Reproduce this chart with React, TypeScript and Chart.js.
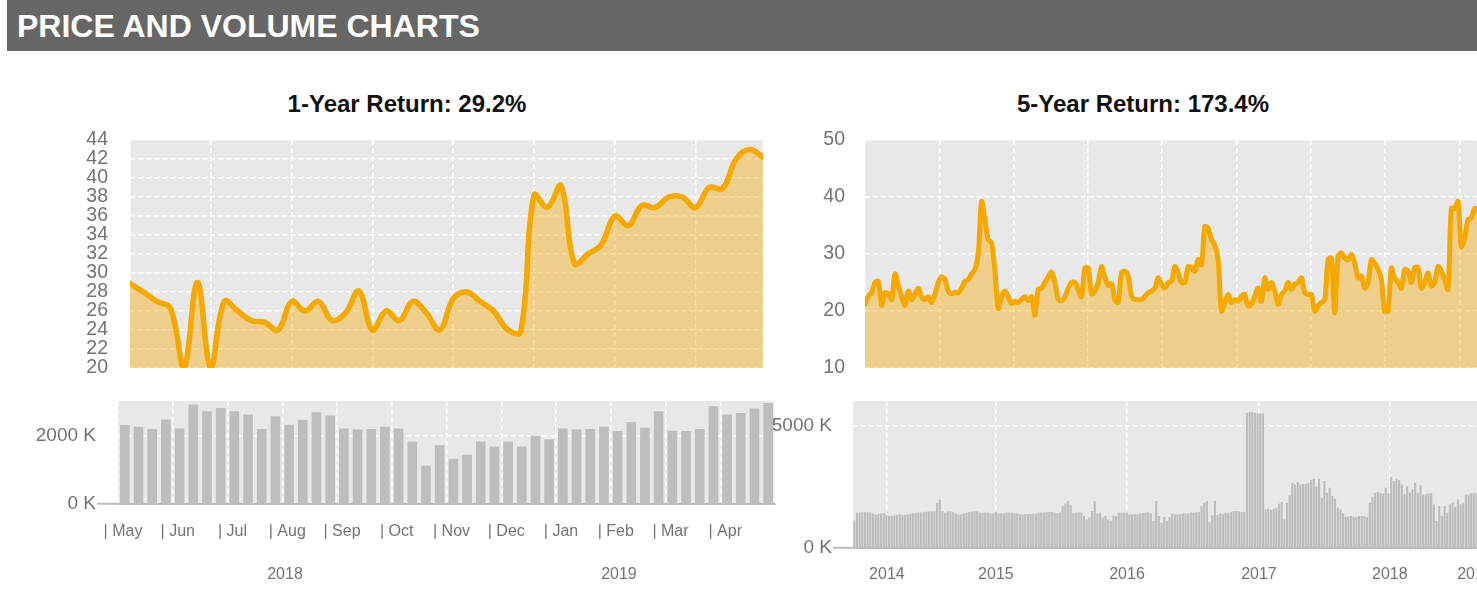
import React, { useEffect, useRef } from "react";
import { Chart, registerables } from "chart.js";

Chart.register(...registerables);

const FONT = "'Liberation Sans', Arial, Helvetica, sans-serif";
Chart.defaults.font.family = FONT;
Chart.defaults.color = "#737373";

// ---------------- data ----------------
// 1-year (weekly)
const price1YTicks = [20, 22, 24, 26, 28, 30, 32, 34, 36, 38, 40, 42, 44];
const price1Y = [
  28.9, 28.0, 27.0, 26.3, 20.0, 29.0, 20.0, 27.0, 26.0, 25.0,
  24.8, 24.0, 27.0, 26.0, 27.0, 25.0, 25.8, 28.1, 24.0, 26.0,
  25.0, 27.0, 25.8, 24.0, 27.3, 28.0, 27.0, 26.0, 24.1, 23.8,
  38.2, 36.9, 39.2, 31.0, 32.0, 33.0, 36.0, 35.0, 37.1, 36.9,
  38.0, 38.0, 36.9, 39.0, 38.9, 42.0, 43.0, 42.2,
];
const volume1YTicks = [0, 2000];
const volume1Y = [
  2288, 2240, 2173, 2452, 2192, 2885, 2692, 2788, 2692, 2596,
  2173, 2548, 2298, 2442, 2663, 2567, 2192, 2163, 2173, 2240,
  2192, 1808, 1106, 1702, 1308, 1423, 1808, 1663, 1808, 1663,
  1981, 1875, 2192, 2163, 2173, 2240, 2115, 2375, 2211, 2692,
  2125, 2115, 2173, 2836, 2596, 2644, 2769, 2933,
];
const months1Y = ["May", "Jun", "Jul", "Aug", "Sep", "Oct", "Nov", "Dec", "Jan", "Feb", "Mar", "Apr"];
const years1Y = ["2018", "2019"];

// 5-year
const price5YTicks = [10, 20, 30, 40, 50];
const price5Y = [
  21.2, 22.6, 23.2, 25, 25.2, 21, 23.2, 23, 22, 26.5,
  24.5, 22.5, 21, 23.5, 22, 23, 24, 22.5, 22, 22.5,
  21.5, 23, 25, 26, 25.5, 23.5, 23, 23.3, 23.2, 24,
  25.2, 25.5, 26.5, 27.3, 30, 39.2, 36, 32.5, 32, 27,
  20.5, 22.5, 23.5, 22.5, 21.3, 21.7, 21.5, 22, 22.5, 21.8,
  22.5, 19.3, 23.8, 24, 25, 26, 26.8, 25, 22, 21.8,
  22.5, 24, 25, 25, 23.8, 22.5, 27.5, 27.5, 23, 23.5,
  25, 27.8, 26, 24.5, 24.8, 22, 21.5,
  26.7, 27, 26.1, 22.6, 22, 22, 22, 22.6, 23.2, 23.5,
  24, 25.8, 24.7, 24, 25, 25.2, 27.8, 26.7, 25, 25,
  27.8, 27.6, 27, 29, 28.1, 34.8, 34.5, 32.5, 31.6, 29,
  20, 21.5, 22.9, 21.5, 22, 21.7, 22.6, 22.9, 20.9, 21.2,
  22.6, 24, 21.7, 25.8, 23.8, 25, 23.5, 21.2, 22.9, 23.5,
  25, 23.8, 24.7, 25, 25.8, 23.2, 22.9, 22.9, 20, 20.9,
  21.5, 22, 29, 29.3, 19.7, 29.6, 30.2, 29.3, 29, 29.9,
  28.4, 25.8, 26.1, 24, 25, 29, 28.4, 27.3, 25.5, 20,
  20, 27.5, 25.8, 25, 24, 27.3, 27, 25, 27.6, 27.6,
  24, 25, 26.7, 24.4, 25, 27.8, 27, 25.5, 23.8, 38,
  38, 39.2, 31.3, 32.8, 36, 36.3, 38,
  37.5, 39, 39, 41.5, 43, 43, 42.2,
];
const volume5YTicks = [0, 5000];
const volume5Y = [
  1087, 1427, 1440, 1440, 1450, 1450, 1440, 1400, 1360, 1380,
  1400, 1400, 1330, 1290, 1290, 1310, 1340, 1370, 1340, 1340,
  1360, 1390, 1400, 1410, 1430, 1440, 1450, 1470, 1480, 1480,
  1490, 1830, 1970, 1490, 1430, 1480, 1480, 1450, 1400, 1360,
  1360, 1400, 1430, 1450, 1470, 1480, 1480, 1430, 1430, 1430,
  1430, 1400, 1400, 1450, 1400, 1400, 1400, 1430, 1430, 1420,
  1400, 1400, 1370, 1360, 1370, 1370, 1380, 1390, 1390, 1420,
  1430, 1430, 1450, 1460, 1460, 1430, 1400, 1430, 1700, 1800,
  1900, 1750, 1420, 1430, 1440, 1430, 1290, 1150, 1230, 1490,
  1900, 1400, 1420, 1220, 1300, 1150, 1100, 1300, 1290, 1430,
  1427, 1427, 1427, 1359, 1359, 1370, 1370, 1400, 1400, 1427,
  1450, 1400, 1087, 1903, 1291, 1019, 1250, 1087, 1250, 1400,
  1359, 1370, 1370, 1400, 1400, 1400, 1427, 1427, 1450, 1450,
  1699, 1835, 1903, 1046, 1318, 1903, 1345, 1400, 1370, 1427,
  1427, 1450, 1495, 1495, 1480, 1450, 1450, 5504, 5531, 5531,
  5504, 5477, 5477, 5477, 1563, 1590, 1536, 1590, 1631, 1794,
  1862, 1155, 1835, 2134, 2650, 2582, 2677, 2582, 2600, 2600,
  2650, 2759, 2813, 2487, 2813, 2039, 2718, 2242, 2446, 2106,
  2000, 1631, 1563, 1400, 1264, 1264, 1291, 1264, 1250, 1291,
  1291, 1291, 1250, 1835, 2079, 2242, 2270, 2242, 2215, 2446,
  2215, 2895, 2718, 2813, 2759, 2582, 2201, 2514, 2242, 2378,
  2650, 2242, 2541, 2174, 2174, 2215, 2215, 1767, 1087, 1699,
  1291, 1699, 1427, 1767, 1835, 1672, 1971, 1767, 1835, 2174,
  2174, 2215, 2215, 2242,
  2300, 2450, 2250, 2500, 2600, 2350, 2400, 2700, 2550, 2650, 2800, 2900,
];
const years5Y = ["2014", "2015", "2016", "2017", "2018", "2019"];

// ---------------- style ----------------
const PLOT_BG = "#e8e8e8";
const GRID = "#ffffff";
const LINE = "#f5a800";
const FILL = "rgba(245,168,0,0.4)";
const BAR = "#bdbdbd";
const AXIS = "#bdbdbd";
const TEXT = "#737373";
const DASH = [5, 3];
const CLEAR = "rgba(0,0,0,0)";

const plotBackground = {
  id: "plotBackground",
  beforeDraw(chart: any) {
    const { ctx, chartArea: a } = chart;
    ctx.save();
    ctx.fillStyle = PLOT_BG;
    ctx.fillRect(a.left, a.top, a.right - a.left, a.bottom - a.top);
    ctx.restore();
  },
};

const fixWidth = (w: number) => (s: any) => { s.width = w; };
const fixHeight = (h: number) => (s: any) => { s.height = h; };
const setTicks = (vals: number[]) => (s: any) => { s.ticks = vals.map((v) => ({ value: v })); };

const basePlugins = { legend: { display: false }, tooltip: { enabled: false }, title: { display: false } };

function priceConfig(values: number[], yTicks: number[], yWidth: number, padRight: number, labelGap: number, gridStep: number, tension: number, lineWidth: number): any {
  const gridPos: number[] = [];
  for (let v = 0; v < values.length - 1; v += gridStep) gridPos.push(v);
  return {
    type: "line",
    data: {
      datasets: [{
        data: values.map((y, i) => ({ x: i, y })),
        borderColor: LINE,
        backgroundColor: FILL,
        fill: "start",
        borderWidth: lineWidth,
        pointRadius: 0,
        pointHoverRadius: 0,
        tension,
        borderJoinStyle: "round",
        borderCapStyle: "round",
      }],
    },
    options: {
      responsive: false,
      animation: false,
      events: [],
      layout: { padding: { top: 12, right: padRight, bottom: 12, left: 0 } },
      plugins: basePlugins,
      scales: {
        x: {
          type: "linear", min: 0, max: values.length - 1, offset: false,
          afterBuildTicks: setTicks(gridPos),
          ticks: { display: false },
          grid: { color: GRID, lineWidth: 1.5, drawTicks: false, offset: false },
          border: { display: false, dash: DASH },
          afterFit: fixHeight(0),
        },
        y: {
          type: "linear", min: yTicks[0], max: yTicks[yTicks.length - 1],
          afterBuildTicks: setTicks(yTicks),
          ticks: { autoSkip: false, padding: 0, color: TEXT, font: { size: 19.5 } },
          grid: { color: GRID, lineWidth: 1.5, drawTicks: true, tickLength: labelGap, tickColor: CLEAR },
          border: { display: false, dash: DASH },
          afterFit: fixWidth(yWidth),
        },
      },
    },
    plugins: [plotBackground],
  };
}

function volumeYAxis(yTicks: number[], max: number, width: number, tickLength: number): any {
  return {
    type: "linear", min: 0, max,
    afterBuildTicks: setTicks(yTicks),
    ticks: { autoSkip: false, padding: 1, color: TEXT, font: { size: 19 }, callback: (v: number) => v + " K" },
    grid: {
      color: (c: any) => (c.tick && c.tick.value === 0 ? CLEAR : GRID),
      lineWidth: 1.5,
      drawTicks: true,
      tickLength,
      tickWidth: 2,
      tickColor: (c: any) => (c.tick && c.tick.value === 0 ? AXIS : CLEAR),
    },
    border: { display: false, dash: DASH },
    afterFit: fixWidth(width),
  };
}

function volume1YConfig(): any {
  const monthGrid = months1Y.map((_, i) => i).concat([months1Y.length]);
  return {
    type: "bar",
    data: {
      labels: volume1Y.map((_, i) => String(i)),
      datasets: [{ data: volume1Y, backgroundColor: BAR, barThickness: 9, xAxisID: "x", yAxisID: "y" }],
    },
    options: {
      responsive: false,
      animation: false,
      events: [],
      layout: { padding: { top: 13, right: 25, bottom: 0, left: 0 } },
      plugins: basePlugins,
      scales: {
        x: { type: "category", display: false, offset: true },
        xm: {
          type: "linear", position: "bottom", weight: 0, min: 0, max: months1Y.length, offset: false,
          afterBuildTicks: setTicks(monthGrid),
          ticks: {
            autoSkip: false, maxRotation: 0, padding: 18, labelOffset: 5, color: TEXT, font: { size: 16 },
            callback: (_v: number, i: number) => (i < months1Y.length ? "| " + months1Y[i] : ""),
          },
          grid: { color: GRID, lineWidth: 1.5, drawTicks: false, offset: false },
          border: { display: true, color: AXIS, width: 2, dash: DASH, z: 1 },
          afterFit: fixHeight(40),
        },
        xy: {
          type: "linear", position: "bottom", weight: 1, min: 0, max: months1Y.length, offset: false,
          afterBuildTicks: setTicks([3.05, 9.15]),
          ticks: { autoSkip: false, maxRotation: 0, padding: 21.4, color: TEXT, font: { size: 16 }, callback: (_v: number, i: number) => years1Y[i] },
          grid: { display: false, drawTicks: false, offset: false },
          border: { display: false },
          afterFit: fixHeight(47),
        },
        y: volumeYAxis(volume1YTicks, 3000, 118, 21),
      },
    },
    plugins: [plotBackground],
  };
}

function volume5YConfig(): any {
  const n = volume5Y.length;
  return {
    type: "bar",
    data: {
      labels: volume5Y.map((_, i) => String(i)),
      datasets: [{ data: volume5Y, backgroundColor: BAR, barThickness: 1.5, xAxisID: "x", yAxisID: "y" }],
    },
    options: {
      responsive: false,
      animation: false,
      events: [],
      layout: { padding: { top: 13, right: 40, bottom: 0, left: 0 } },
      plugins: basePlugins,
      scales: {
        x: { type: "category", display: false, offset: true },
        xy: {
          type: "linear", position: "bottom", min: -0.5, max: n - 0.5, offset: false,
          afterBuildTicks: setTicks([12.2, 53, 102.1, 151.5, 200.5, 232.4]),
          ticks: { autoSkip: false, maxRotation: 0, padding: 17.4, color: TEXT, font: { size: 16 }, callback: (_v: number, i: number) => years5Y[i] },
          grid: { color: (c: any) => (c.index === years5Y.length - 1 ? CLEAR : GRID), lineWidth: 1.5, drawTicks: false, offset: false },
          border: { display: true, color: AXIS, width: 2, dash: DASH, z: 1 },
          afterFit: fixHeight(43),
        },
        y: volumeYAxis(volume5YTicks, 6000, 93, 20),
      },
    },
    plugins: [plotBackground],
  };
}

function ChartBox({ left, top, width, height, make }: { left: number; top: number; width: number; height: number; make: () => any }) {
  const ref = useRef<HTMLCanvasElement>(null);
  useEffect(() => {
    const chart = new Chart(ref.current as HTMLCanvasElement, make());
    return () => chart.destroy();
  }, []);
  return (
    <div style={{ position: "absolute", left, top, width, height }}>
      <canvas ref={ref} width={width} height={height} style={{ width, height, display: "block" }} />
    </div>
  );
}

export default function App() {
  return (
    <div style={{ position: "fixed", left: 0, top: 0, width: 1477, height: 591, overflow: "hidden", background: "#fff", fontFamily: FONT }}>
      <div
        style={{
          position: "absolute", left: 7, top: 0, width: 1470, height: 51, background: "#666666", color: "#ffffff",
          font: `bold 32px ${FONT}`, display: "flex", alignItems: "center", paddingLeft: 10, paddingTop: 1, boxSizing: "border-box",
        }}
      >
        PRICE AND VOLUME CHARTS
      </div>
      <div style={{ position: "absolute", left: 207, top: 90, width: 400, textAlign: "center", font: `bold 24px ${FONT}`, color: "#111" }}>
        1-Year Return: 29.2%
      </div>
      <div style={{ position: "absolute", left: 943, top: 90, width: 400, textAlign: "center", font: `bold 24px ${FONT}`, color: "#111" }}>
        5-Year Return: 173.4%
      </div>
      <ChartBox left={0} top={128} width={800} height={252} make={() => priceConfig(price1Y, price1YTicks, 130, 37, 22, 6, 0.4, 5.5)} />
      <ChartBox left={780} top={128} width={760} height={252} make={() => priceConfig(price5Y, price5YTicks, 85, 42, 20, 22.3, 0.3, 5)} />
      <ChartBox left={0} top={388} width={800} height={203} make={volume1YConfig} />
      <ChartBox left={760} top={388} width={790} height={203} make={volume5YConfig} />
    </div>
  );
}
